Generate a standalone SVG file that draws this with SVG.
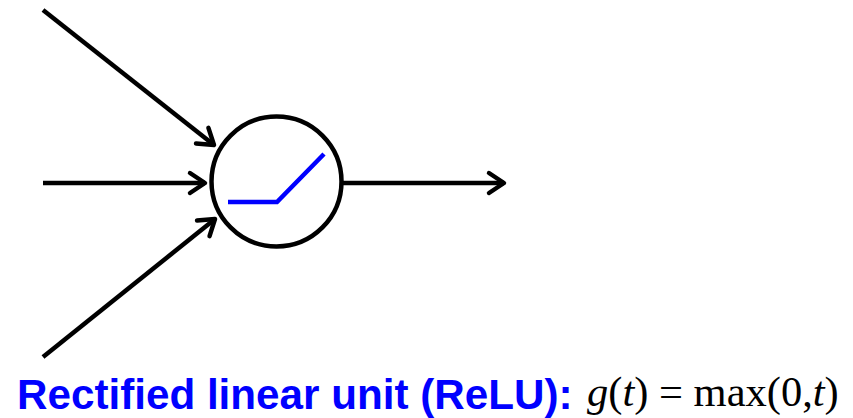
<svg xmlns="http://www.w3.org/2000/svg" width="853" height="418" viewBox="0 0 853 418">
  <style>
    .edge { stroke: #000; stroke-width: 4.5; fill: none; }
    .ah { stroke: #000; stroke-width: 4.5; fill: none; stroke-linecap: round; stroke-linejoin: round; }
    .lbl { font-family: "Liberation Sans", Arial, sans-serif; font-weight: bold; font-size: 42.2px; fill: #0000FF; }
    .math { font-family: "Liberation Serif", "Times New Roman", serif; font-size: 42.5px; fill: #000; }
  </style>
  <defs>
    <marker id="arr" markerUnits="userSpaceOnUse" markerWidth="40" markerHeight="40" viewBox="-20 -20 40 40" refX="0" refY="0" orient="auto">
      <path class="ah" d="M-15,-10 L0,0 L-15,10"/>
    </marker>
  </defs>
  <rect width="853" height="418" fill="#fff"/>
  <g id="connectors">
    <line class="edge" x1="43" y1="10" x2="214" y2="145" marker-end="url(#arr)"/>
    <line class="edge" x1="43" y1="183" x2="205" y2="183" marker-end="url(#arr)"/>
    <line class="edge" x1="43" y1="357" x2="215" y2="219" marker-end="url(#arr)"/>
    <line class="edge" x1="342" y1="183" x2="504" y2="183" marker-end="url(#arr)"/>
  </g>
  <g id="neuron">
    <circle cx="276.5" cy="181.5" r="65" fill="#fff" stroke="#000" stroke-width="4.5"/>
    <polyline points="228,202 277,202 324,154" fill="none" stroke="#0000FF" stroke-width="4.5"/>
  </g>
  <g id="caption">
    <text class="lbl" x="17" y="409">Rectified linear unit (ReLU):</text>
    <text class="math" x="587" y="406"><tspan font-style="italic">g</tspan>(<tspan font-style="italic">t</tspan>) = max(0,<tspan font-style="italic">t</tspan>)</text>
  </g>
</svg>
